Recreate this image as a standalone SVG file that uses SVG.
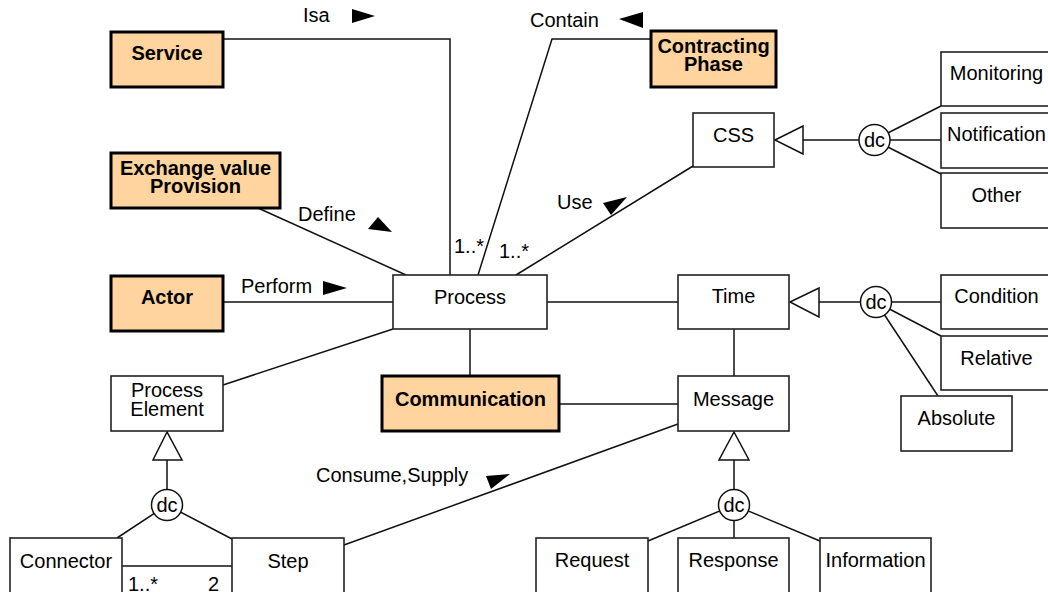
<svg xmlns="http://www.w3.org/2000/svg" width="1048" height="592" viewBox="0 0 1048 592">
<style>
text{font-family:"Liberation Sans",Arial,sans-serif;font-size:20px;fill:#000}
.c{text-anchor:middle}
.b{font-weight:bold}
.box{fill:#fff;stroke:#222;stroke-width:1.6}
.key{fill:#FFD49E;stroke:#000;stroke-width:3}
.ln{fill:none;stroke:#111;stroke-width:1.5}
.arr{fill:#000;stroke:none}
.gen{fill:#fff;stroke:#111;stroke-width:1.5}
.dc{fill:#fff;stroke:#111;stroke-width:1.5}
</style>
<rect width="1048" height="592" fill="#fff"/>
<g id="connectors">
<polyline class="ln" points="223,39 450,39 450,275"/>
<polyline class="ln" points="651,39 552,39 478,275"/>
<line class="ln" x1="693" y1="166" x2="516" y2="275"/>
<line class="ln" x1="258" y1="208" x2="406" y2="275"/>
<line class="ln" x1="223" y1="302" x2="393" y2="302"/>
<line class="ln" x1="393" y1="329" x2="223" y2="385"/>
<line class="ln" x1="547" y1="302" x2="678" y2="302"/>
<line class="ln" x1="470" y1="329" x2="470" y2="376"/>
<line class="ln" x1="559" y1="404" x2="678" y2="404"/>
<line class="ln" x1="734" y1="329" x2="734" y2="376"/>
<line class="ln" x1="344" y1="545" x2="678" y2="424"/>
<line class="ln" x1="122" y1="566" x2="232" y2="566"/>
<!-- CSS generalization -->
<line class="ln" x1="803" y1="140" x2="874" y2="140"/>
<line class="ln" x1="874" y1="140" x2="941" y2="106"/>
<line class="ln" x1="874" y1="140" x2="941" y2="140"/>
<line class="ln" x1="874" y1="140" x2="941" y2="174"/>
<polygon class="gen" points="775,140 803,126 803,154"/>
<circle class="dc" cx="874.5" cy="140" r="15.5"/>
<text class="c" x="874.5" y="147">dc</text>
<!-- Time generalization -->
<line class="ln" x1="819" y1="302" x2="876" y2="302"/>
<line class="ln" x1="876" y1="302" x2="941" y2="302"/>
<line class="ln" x1="876" y1="302" x2="941" y2="336"/>
<line class="ln" x1="876" y1="302" x2="938" y2="396"/>
<polygon class="gen" points="790,302 819,288 819,317"/>
<circle class="dc" cx="876" cy="302" r="15.5"/>
<text class="c" x="876" y="309">dc</text>
<!-- Message generalization -->
<line class="ln" x1="734" y1="460" x2="734" y2="538"/>
<line class="ln" x1="734" y1="505" x2="648" y2="541"/>
<line class="ln" x1="734" y1="505" x2="820" y2="541"/>
<polygon class="gen" points="734,432 719,460 749,460"/>
<circle class="dc" cx="734" cy="505" r="15.5"/>
<text class="c" x="734" y="512">dc</text>
<!-- Process Element generalization -->
<line class="ln" x1="167" y1="460" x2="167" y2="505"/>
<line class="ln" x1="167" y1="505" x2="117" y2="538"/>
<line class="ln" x1="167" y1="505" x2="232" y2="539"/>
<polygon class="gen" points="167,432 153,460 182,460"/>
<circle class="dc" cx="167" cy="505" r="15.5"/>
<text class="c" x="167" y="512">dc</text>
<!-- direction arrows -->
<polygon class="arr" points="352,9 375,16 352,23"/>
<polygon class="arr" points="619,19 643,12 643,28"/>
<polygon class="arr" points="368,229 378,217 392,232"/>
<polygon class="arr" points="323,281 347,288 323,295"/>
<polygon class="arr" points="603,203 627,197 611,215"/>
<polygon class="arr" points="486,476 510,474 491,489"/>
<!-- labels -->
<text x="303" y="22">Isa</text>
<text x="530" y="27">Contain</text>
<text x="298" y="221">Define</text>
<text x="241" y="293">Perform</text>
<text x="557" y="209">Use</text>
<text x="316" y="482">Consume,Supply</text>
<text x="454" y="253">1..*</text>
<text x="499" y="258">1..*</text>
<text x="128" y="591">1..*</text>
<text x="208" y="591">2</text>
</g>
<g id="service"><rect class="key" x="111" y="32" width="112" height="55"/><text class="c b" x="167" y="60">Service</text></g>
<g id="exchange"><rect class="key" x="111" y="153" width="169" height="55"/><text class="c b" x="195.5" y="175">Exchange value</text><text class="c b" x="195.5" y="193">Provision</text></g>
<g id="actor"><rect class="key" x="111" y="276" width="112" height="55"/><text class="c b" x="167" y="304">Actor</text></g>
<g id="contracting"><rect class="key" x="651" y="31" width="125" height="56"/><text class="c b" x="713.5" y="53">Contracting</text><text class="c b" x="713.5" y="71">Phase</text></g>
<g id="communication"><rect class="key" x="382" y="376" width="177" height="55"/><text class="c b" x="470.5" y="406">Communication</text></g>
<g id="process"><rect class="box" x="393" y="275" width="154" height="54"/><text class="c" x="470" y="304">Process</text></g>
<g id="css"><rect class="box" x="693" y="113" width="81" height="54"/><text class="c" x="733.5" y="142">CSS</text></g>
<g id="time"><rect class="box" x="678" y="275" width="111" height="54"/><text class="c" x="733.5" y="303">Time</text></g>
<g id="message"><rect class="box" x="678" y="376" width="111" height="55"/><text class="c" x="733.5" y="406">Message</text></g>
<g id="monitoring"><rect class="box" x="941" y="52" width="111" height="54"/><text class="c" x="996.5" y="80">Monitoring</text></g>
<g id="notification"><rect class="box" x="941" y="113" width="111" height="55"/><text class="c" x="996.5" y="141">Notification</text></g>
<g id="other"><rect class="box" x="941" y="173" width="111" height="55"/><text class="c" x="996.5" y="202">Other</text></g>
<g id="condition"><rect class="box" x="941" y="275" width="111" height="54"/><text class="c" x="996.5" y="303">Condition</text></g>
<g id="relative"><rect class="box" x="941" y="336" width="111" height="54"/><text class="c" x="996.5" y="365">Relative</text></g>
<g id="absolute"><rect class="box" x="901" y="396" width="111" height="55"/><text class="c" x="956.5" y="425">Absolute</text></g>
<g id="process-element"><rect class="box" x="111" y="376" width="112" height="55"/><text class="c" x="167" y="397">Process</text><text class="c" x="167" y="416">Element</text></g>
<g id="connector"><rect class="box" x="10" y="538" width="112" height="60"/><text class="c" x="66" y="568">Connector</text></g>
<g id="step"><rect class="box" x="232" y="538" width="112" height="60"/><text class="c" x="288" y="568">Step</text></g>
<g id="request"><rect class="box" x="536" y="538" width="112" height="60"/><text class="c" x="592" y="567">Request</text></g>
<g id="response"><rect class="box" x="678" y="538" width="111" height="60"/><text class="c" x="733.5" y="567">Response</text></g>
<g id="information"><rect class="box" x="820" y="538" width="111" height="60"/><text class="c" x="875.5" y="567">Information</text></g>
</svg>
